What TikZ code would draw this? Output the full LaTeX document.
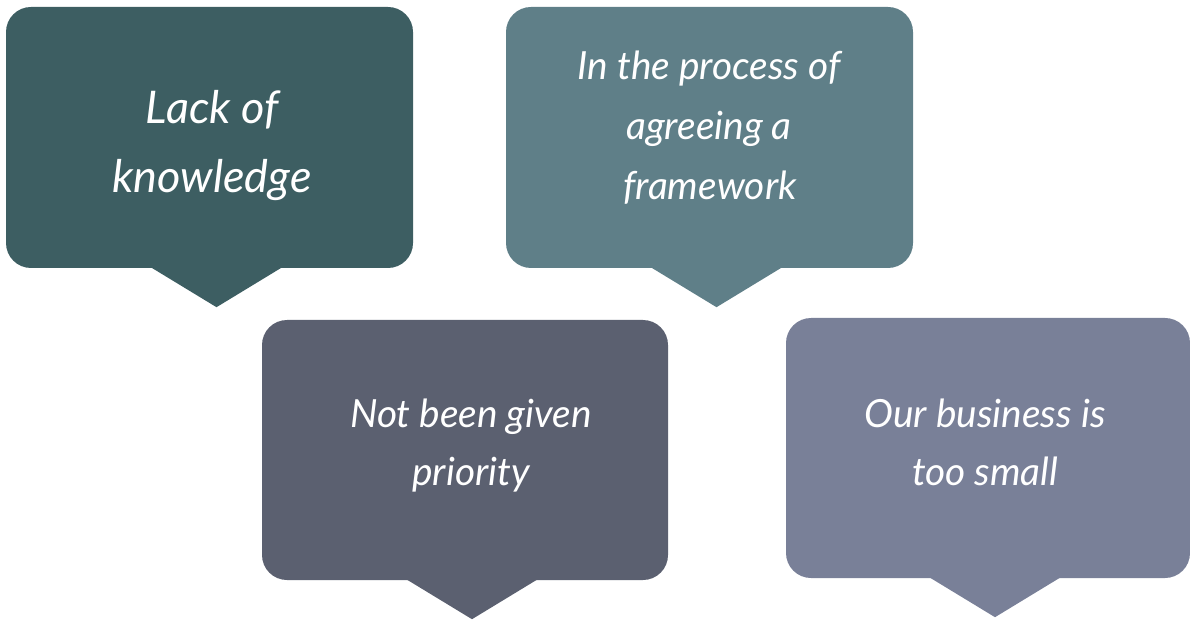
\documentclass[tikz,border=0pt]{standalone}
\usepackage{fontspec}
\setmainfont{Lato}
\usetikzlibrary{calc}
\definecolor{cA}{RGB}{61,94,98}
\definecolor{cB}{RGB}{95,127,136}
\definecolor{cC}{RGB}{91,96,112}
\definecolor{cD}{RGB}{121,128,152}
\tikzset{
  bubble/.style={draw=none, rounded corners=25pt, inner sep=0pt},
  big/.style={text=white, anchor=base, inner sep=0pt, font=\fontsize{45}{50}\selectfont\itshape},
  small/.style={text=white, anchor=base, inner sep=0pt, font=\fontsize{38.8}{42}\selectfont\itshape},
}
\newcommand{\pointer}[2]{\fill[#2] ($(#1.south)+(-58,0.5)$) -- ($(#1.south)+(7,-39)$) -- ($(#1.south)+(72,0.5)$) -- cycle;}
\begin{document}
\begin{tikzpicture}[x=1pt,y=1pt]
\useasboundingbox (0,0) rectangle (1190,619);
\node[bubble, fill=cA, minimum width=407pt, minimum height=261pt] (b1) at (209.5,481.5) {};
\node[bubble, fill=cB, minimum width=407pt, minimum height=261pt] (b2) at (709.5,481.5) {};
\node[bubble, fill=cC, minimum width=406pt, minimum height=260pt] (b3) at (465,169) {};
\node[bubble, fill=cD, minimum width=404pt, minimum height=260pt] (b4) at (988,171) {};
\pointer{b1}{cA}
\pointer{b2}{cB}
\pointer{b3}{cC}
\pointer{b4}{cD}
\node[big] (t1a) at (212,495) {Lack of};
\node[big] (t1b) at (212,426) {knowledge};
\node[small] (t2a) at (709,539) {In the process of};
\node[small] (t2b) at (709,479) {agreeing a};
\node[small] (t2c) at (710,419) {framework};
\node[small] (t3a) at (471,192) {Not been given};
\node[small] (t3b) at (471,134) {priority};
\node[small] (t4a) at (985,192) {Our business is};
\node[small] (t4b) at (985,134) {too small};
\end{tikzpicture}
\end{document}
